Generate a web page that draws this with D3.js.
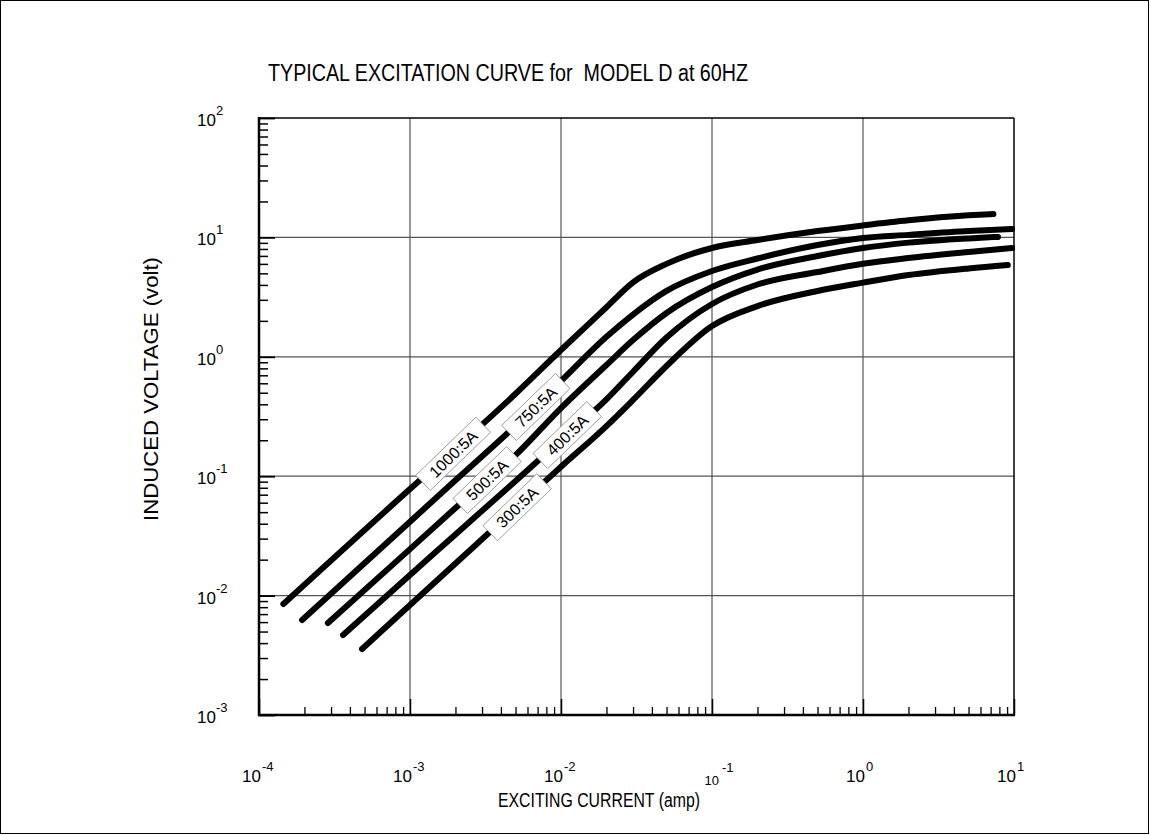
<html>
<head>
  <title>Typical excitation curve</title>
  <script src="https://d3js.org/d3.v7.min.js"></script>
  <style>
    body {
      margin: 0;
      background: #fff;
      font-family: Arial, "Liberation Sans", Helvetica, sans-serif;
    }
    .tick line { stroke: #000; }
  </style>
</head>
<body>
  <div id="graphArea"></div>
  <script>
    // curves: [exciting current (amp), induced voltage (volt)]
    var curve1000 = [[1.45e-4, 0.0085], [1e-3, 0.078], [2e-3, 0.17], [5e-3, 0.49], [1e-2, 1.14], [2e-2, 2.6], [3e-2, 4.2], [5e-2, 6.0], [0.1, 8.15], [0.2, 9.5], [0.5, 11.3], [1, 12.6], [2, 13.9], [5, 15.3], [7.3, 15.7]];
    var curve750 = [[1.93e-4, 0.00625], [1e-3, 0.0416], [2e-3, 0.0925], [5e-3, 0.265], [1e-2, 0.626], [2e-2, 1.47], [3e-2, 2.26], [5e-2, 3.56], [0.1, 5.23], [0.2, 6.66], [0.5, 8.63], [1, 9.89], [2, 10.5], [5, 11.3], [9.7, 11.75]];
    var curve500 = [[2.86e-4, 0.0059], [1e-3, 0.0245], [2e-3, 0.0542], [5e-3, 0.150], [1e-2, 0.372], [2e-2, 0.853], [3e-2, 1.38], [5e-2, 2.33], [0.1, 3.84], [0.2, 5.38], [0.5, 6.98], [1, 8.15], [2, 9.04], [5, 9.81], [7.84, 10.1]];
    var curve400 = [[3.6e-4, 0.00468], [1e-3, 0.0149], [2e-3, 0.0325], [5e-3, 0.0912], [1e-2, 0.201], [2e-2, 0.44], [3e-2, 0.75], [5e-2, 1.45], [0.1, 2.77], [0.2, 4.03], [0.5, 5.13], [1, 6.02], [2, 6.72], [5, 7.55], [9.7, 8.15]];
    var curve300 = [[4.81e-4, 0.00357], [1e-3, 0.00834], [2e-3, 0.0186], [5e-3, 0.0537], [1e-2, 0.120], [2e-2, 0.263], [3e-2, 0.435], [5e-2, 0.838], [0.1, 1.81], [0.2, 2.66], [0.5, 3.56], [1, 4.18], [2, 4.84], [5, 5.50], [9.1, 5.87]];

    var ratios = ["1000:5A", "750:5A", "500:5A", "400:5A", "300:5A"];
    var curves = [curve1000, curve750, curve500, curve400, curve300];
    // where each ratio tag sits on its curve
    var labelCurrent = [1.93e-3, 6.82e-3, 3.24e-3, 0.011, 5.12e-3];
    var labelVolt = [0.154, 0.38, 0.0929, 0.221, 0.055];

    var xExponents = [-4, -3, -2, -1, 0, 1];
    var yExponents = [-3, -2, -1, 0, 1, 2];

    var title = "TYPICAL EXCITATION CURVE for  MODEL D at 60HZ";
    var xTitle = "EXCITING CURRENT (amp)";
    var yTitle = "INDUCED VOLTAGE (volt)";

    var W = 1151, H = 835;
    var plot = { left: 259, right: 1014, top: 118, bottom: 715 };

    var svg = d3.select("#graphArea").append("svg")
      .attr("width", W)
      .attr("height", H);

    // outer frame
    svg.append("rect")
      .attr("x", 0.5).attr("y", 0.5)
      .attr("width", 1148).attr("height", 833)
      .attr("fill", "none")
      .attr("stroke", "#000")
      .attr("stroke-width", 1);

    var x = d3.scaleLog().domain([1e-4, 10]).range([plot.left, plot.right]);
    var y = d3.scaleLog().domain([1e-3, 100]).range([plot.bottom, plot.top]);

    var xDecades = xExponents.map(function(e) { return Math.pow(10, e); });
    var yDecades = yExponents.map(function(e) { return Math.pow(10, e); });

    function minors(decades) {
      var out = [];
      for (var i = 0; i < decades.length - 1; i++) {
        for (var m = 2; m <= 9; m++) out.push(m * decades[i]);
      }
      return out;
    }

    // grid at each decade
    svg.append("g").selectAll("line")
      .data(xDecades.slice(1, -1))
      .enter().append("line")
      .attr("x1", function(d) { return x(d); })
      .attr("x2", function(d) { return x(d); })
      .attr("y1", plot.top).attr("y2", plot.bottom)
      .attr("stroke", "#555").attr("stroke-width", 1.2);

    svg.append("g").selectAll("line")
      .data(yDecades.slice(1, -1))
      .enter().append("line")
      .attr("y1", function(d) { return y(d); })
      .attr("y2", function(d) { return y(d); })
      .attr("x1", plot.left).attr("x2", plot.right)
      .attr("stroke", "#555").attr("stroke-width", 1.2);

    // minor and major ticks, pointing into the plot
    svg.append("g")
      .attr("transform", "translate(0," + plot.bottom + ")")
      .call(d3.axisBottom(x).tickValues(minors(xDecades)).tickSize(-8).tickSizeOuter(0).tickFormat(""))
      .call(function(g) { g.select(".domain").remove(); g.selectAll("line").attr("stroke-width", 1.3); });

    svg.append("g")
      .attr("transform", "translate(0," + plot.bottom + ")")
      .call(d3.axisBottom(x).tickValues(xDecades).tickSize(-16).tickSizeOuter(0).tickFormat(""))
      .call(function(g) { g.select(".domain").remove(); g.selectAll("line").attr("stroke-width", 1.5); });

    svg.append("g")
      .attr("transform", "translate(" + plot.left + ",0)")
      .call(d3.axisLeft(y).tickValues(minors(yDecades)).tickSize(-9).tickSizeOuter(0).tickFormat(""))
      .call(function(g) { g.select(".domain").remove(); g.selectAll("line").attr("stroke-width", 1.5); });

    svg.append("g")
      .attr("transform", "translate(" + plot.left + ",0)")
      .call(d3.axisLeft(y).tickValues(yDecades).tickSize(-16).tickSizeOuter(0).tickFormat(""))
      .call(function(g) { g.select(".domain").remove(); g.selectAll("line").attr("stroke-width", 1.8); });

    // plot frame
    svg.append("line").attr("x1", plot.left - 1).attr("x2", plot.right + 1)
      .attr("y1", plot.bottom).attr("y2", plot.bottom)
      .attr("stroke", "#000").attr("stroke-width", 2.5);
    svg.append("line").attr("x1", plot.left).attr("x2", plot.left)
      .attr("y1", plot.top - 1).attr("y2", plot.bottom + 1)
      .attr("stroke", "#000").attr("stroke-width", 2.5);
    svg.append("line").attr("x1", plot.left).attr("x2", plot.right)
      .attr("y1", plot.top).attr("y2", plot.top)
      .attr("stroke", "#000").attr("stroke-width", 1.5);
    svg.append("line").attr("x1", plot.right).attr("x2", plot.right)
      .attr("y1", plot.top).attr("y2", plot.bottom)
      .attr("stroke", "#000").attr("stroke-width", 1.5);

    // curves
    var line = d3.line()
      .x(function(d) { return x(d[0]); })
      .y(function(d) { return y(d[1]); })
      .curve(d3.curveMonotoneX);

    svg.append("g").selectAll("path")
      .data(curves)
      .enter().append("path")
      .attr("d", line)
      .attr("fill", "none")
      .attr("stroke", "#000")
      .attr("stroke-width", 6)
      .attr("stroke-linecap", "round")
      .attr("stroke-linejoin", "round");

    // ratio tags
    var tags = svg.append("g").selectAll("g")
      .data(ratios)
      .enter().append("g")
      .attr("transform", function(d, i) {
        return "translate(" + x(labelCurrent[i]) + "," + y(labelVolt[i]) + ") rotate(-44)";
      });

    var tagRect = tags.append("rect")
      .attr("fill", "#fff")
      .attr("stroke", "#8a8a8a")
      .attr("stroke-width", 0.8);

    var tagText = tags.append("text")
      .attr("text-anchor", "middle")
      .attr("dy", "0.36em")
      .style("font-size", "16px")
      .text(function(d) { return d; });

    tagText.each(function(d, i) {
      var w = this.getComputedTextLength() + 24;
      d3.select(tagRect.nodes()[i])
        .attr("x", -w / 2).attr("y", -10.5)
        .attr("width", w).attr("height", 21);
    });

    // x tick labels 10^n
    var xl = svg.append("g");
    xExponents.forEach(function(e) {
      var px = x(Math.pow(10, e));
      var small = (e === -1);
      xl.append("text")
        .attr("x", px + (small ? 7 : 2))
        .attr("y", small ? 785 : 782)
        .attr("text-anchor", "end")
        .style("font-size", small ? "13px" : "17px")
        .text("10");
      xl.append("text")
        .attr("x", px + (small ? 10 : 3))
        .attr("y", small ? 772 : 771)
        .style("font-size", "13px")
        .text(e);
    });

    // y tick labels 10^n
    var yl = svg.append("g");
    yExponents.forEach(function(e) {
      var py = y(Math.pow(10, e));
      yl.append("text")
        .attr("x", 197)
        .attr("y", py + 8)
        .style("font-size", "17px")
        .text("10");
      yl.append("text")
        .attr("x", 216)
        .attr("y", py - 3)
        .style("font-size", "13px")
        .text(e);
    });

    // titles
    svg.append("text")
      .attr("x", 268).attr("y", 81)
      .attr("textLength", 480)
      .attr("lengthAdjust", "spacingAndGlyphs")
      .style("font-size", "23px")
      .style("white-space", "pre")
      .text(title);

    svg.append("text")
      .attr("x", 498).attr("y", 807)
      .attr("textLength", 202)
      .attr("lengthAdjust", "spacingAndGlyphs")
      .style("font-size", "20px")
      .text(xTitle);

    svg.append("text")
      .attr("transform", "translate(158,389) rotate(-90)")
      .attr("text-anchor", "middle")
      .attr("textLength", 264)
      .attr("lengthAdjust", "spacingAndGlyphs")
      .style("font-size", "21px")
      .text(yTitle);
  </script>
</body>
</html>
